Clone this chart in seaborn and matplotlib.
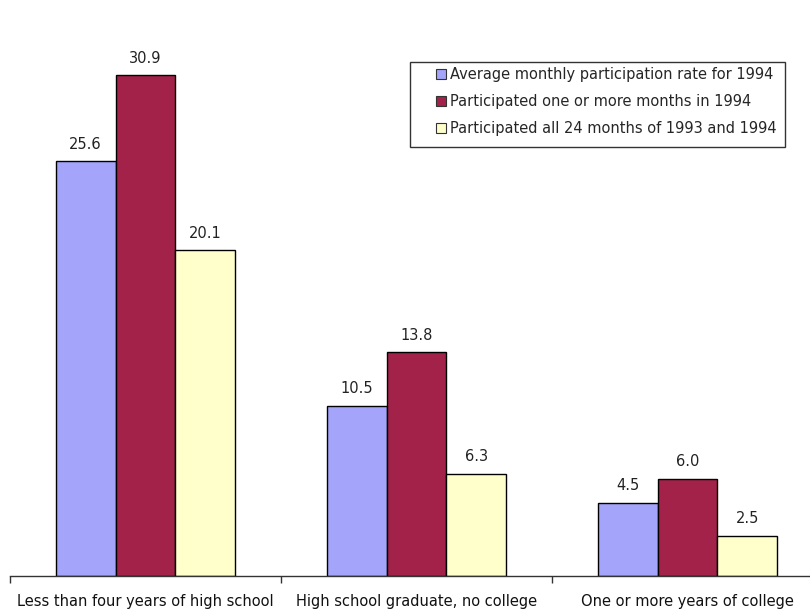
import pandas as pd
import numpy as np
import matplotlib.pyplot as plt
import matplotlib.patches as mpatches
import seaborn as sns

# ============================================================
# Data
# ============================================================

categories = [
    "Less than four years of high school",
    "High school graduate, no college",
    "One or more years of college",
]
series = [
    "Average monthly participation rate for 1994",
    "Participated one or more months in 1994",
    "Participated all 24 months of 1993 and 1994",
]
avg_monthly = [25.6, 10.5, 4.5]
one_or_more = [30.9, 13.8, 6.0]
all_24 = [20.1, 6.3, 2.5]

colors = ["#A4A4FA", "#A2224A", "#FFFFCC"]

df = pd.DataFrame({
    "Category": categories * 3,
    "Series": [series[0]] * 3 + [series[1]] * 3 + [series[2]] * 3,
    "Value": avg_monthly + one_or_more + all_24,
})

# ============================================================
# Plot
# ============================================================

sns.set_style("white")
plt.rcParams["font.family"] = ["DejaVu Sans"]

W, H = 810, 610
fig = plt.figure(figsize=(8.1, 6.1), dpi=100)
ax = fig.add_axes([10 / W, 34 / H, 813 / W, 567 / H])

sns.barplot(
    data=df,
    x="Category",
    y="Value",
    hue="Series",
    hue_order=series,
    order=categories,
    palette=colors,
    width=0.664,
    edgecolor="black",
    linewidth=1.0,
    saturation=1,
    ax=ax,
)

for c in ax.containers:
    ax.bar_label(c, fmt="%.1f", padding=7, fontsize=10.5, color="#222222")

ax.set_xlim(-0.5, 2.5)
ax.set_ylim(0, 35)
ax.set_xlabel("")
ax.set_ylabel("")
ax.set_yticks([])

for side in ["top", "right", "left"]:
    ax.spines[side].set_visible(False)
ax.spines["bottom"].set_color("#333333")
ax.spines["bottom"].set_linewidth(1.0)

ax.set_xticks(range(len(categories)))
ax.set_xticklabels(categories, fontsize=10.5, color="#111111")
ax.tick_params(axis="x", which="major", length=0, pad=13)
ax.set_xticks([-0.5, 0.5, 1.5, 2.5], minor=True)
ax.tick_params(axis="x", which="minor", length=5, width=1, color="#333333",
               direction="out", bottom=True)

# legend without frame, box drawn separately
leg = ax.legend(
    loc="upper left",
    bbox_to_anchor=(436 / W, 1 - 67 / H),
    bbox_transform=fig.transFigure,
    fontsize=10.5,
    frameon=False,
    handlelength=0.68,
    handleheight=0.68,
    handletextpad=0.25,
    labelspacing=0.82,
    borderpad=0,
    borderaxespad=0,
)
for h in leg.legend_handles:
    h.set_edgecolor("#333333")
    h.set_linewidth(0.8)

box = mpatches.Rectangle(
    (410 / W, 1 - 147 / H), 375 / W, 85 / H,
    transform=fig.transFigure, fill=False,
    edgecolor="#333333", linewidth=1.0,
)
fig.patches.append(box)

fig.savefig("out.png", dpi=100)
